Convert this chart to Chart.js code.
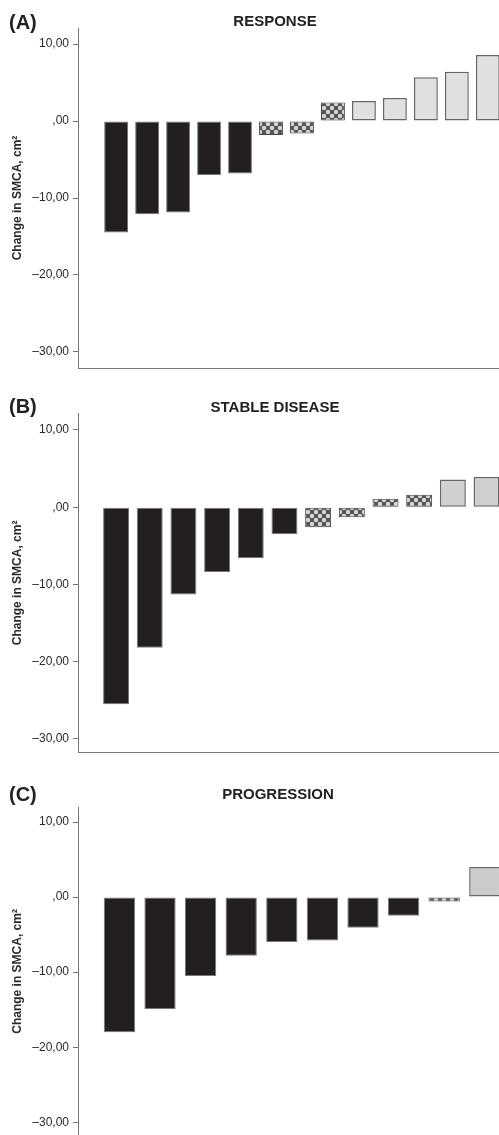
<!DOCTYPE html>
<html>
<head>
<meta charset="utf-8">
<script src="https://cdn.jsdelivr.net/npm/chart.js@4.4.1/dist/chart.umd.min.js"></script>
<style>
  body { margin: 0; background: #fff; width: 499px; height: 1135px; overflow: hidden; position: relative;
         font-family: 'Liberation Sans', Arial, sans-serif; }
  .panel { position: absolute; left: 0; width: 499px; }
  .letter { position: absolute; left: 9px; font-weight: bold; font-size: 20px; line-height: 20px; color: #222; }
  .title { position: absolute; width: 240px; text-align: center; font-weight: bold; font-size: 15px; line-height: 15px; color: #222; }
</style>
</head>
<body>
<div class="panel" style="top:0;height:380px"><canvas id="chartA"></canvas></div>
<div class="panel" style="top:380px;height:384px"><canvas id="chartB"></canvas></div>
<div class="panel" style="top:760px;height:387px"><canvas id="chartC"></canvas></div>

<div class="letter" style="top:12px">(A)</div>
<div class="title" style="top:13px;left:155px">RESPONSE</div>
<div class="letter" style="top:396px">(B)</div>
<div class="title" style="top:399px;left:155px">STABLE DISEASE</div>
<div class="letter" style="top:784px">(C)</div>
<div class="title" style="top:786px;left:158px">PROGRESSION</div>

<script>
const yTicks = [10, 0, -10, -20, -30];
const yTickLabels = ['10,00', ',00', '–10,00', '–20,00', '–30,00'];
const yTitle = 'Change in SMCA, cm²';

// A: response
const responseValues = [-14.5, -12.1, -11.9, -7.0, -6.8, -1.8, -1.6, 2.4, 2.6, 3.0, 5.7, 6.4, 8.6];
const responseGroups = ['loss', 'loss', 'loss', 'loss', 'loss', 'stable', 'stable', 'stable',
                        'gain', 'gain', 'gain', 'gain', 'gain'];

// B: stable disease
const stableValues = [-25.5, -18.2, -11.3, -8.4, -6.6, -3.5, -2.6, -1.3, 1.1, 1.6, 3.6, 3.9];
const stableGroups = ['loss', 'loss', 'loss', 'loss', 'loss', 'loss', 'stable', 'stable', 'stable', 'stable',
                      'gain', 'gain'];

// C: progression
const progressionValues = [-18.0, -14.9, -10.5, -7.8, -6.0, -5.8, -4.1, -2.5, -0.6, 4.0];
const progressionGroups = ['loss', 'loss', 'loss', 'loss', 'loss', 'loss', 'loss', 'loss', 'stable', 'gain'];

function makeHatch() {
  const c = document.createElement('canvas');
  c.width = 8; c.height = 8;
  const g = c.getContext('2d');
  g.fillStyle = '#4e4e4e';
  g.fillRect(0, 0, 8, 8);
  g.fillStyle = '#d4d4d4';
  [[4, 4], [0, 0], [8, 0], [0, 8], [8, 8]].forEach(p => {
    g.beginPath();
    g.arc(p[0], p[1], 2.3, 0, Math.PI * 2);
    g.fill();
  });
  return g.createPattern(c, 'repeat');
}
const hatch = makeHatch();

function drawPanel(id, values, groups, opt) {
  const ctx = document.getElementById(id).getContext('2d');
  const fills = { loss: '#231f20', stable: hatch, gain: opt.light };
  const borders = { loss: '#777', stable: '#444', gain: '#666' };

  new Chart(ctx, {
    type: 'bar',
    data: {
      datasets: [{
        data: values.map((v, i) => ({ x: i, y: v })),
        backgroundColor: groups.map(g => fills[g]),
        borderColor: groups.map(g => borders[g]),
        borderWidth: groups.map(g => g === 'gain' ? 1.5 : 1),
        borderSkipped: false,
        categoryPercentage: 1,
        barPercentage: 0.77
      }]
    },
    options: {
      responsive: true, maintainAspectRatio: false, animation: false,
      layout: { padding: { top: opt.padTop, bottom: opt.padBottom, left: 0, right: 0 } },
      plugins: { legend: { display: false }, tooltip: { enabled: false } },
      scales: {
        x: {
          type: 'linear', offset: false, min: opt.xMin, max: opt.xMax,
          ticks: { display: false },
          grid: { display: false },
          border: { display: true, color: '#777', width: 1 }
        },
        y: {
          min: opt.yMin, max: opt.yMax,
          afterBuildTicks: s => { s.ticks = yTicks.map(v => ({ value: v })); },
          afterFit: s => { s.width = 78; },
          ticks: {
            padding: 4, color: '#2a2a2a',
            font: { family: 'Liberation Sans', size: 12 },
            callback: v => yTickLabels[yTicks.indexOf(v)]
          },
          grid: { drawOnChartArea: false, drawTicks: true, tickLength: 5, color: '#777' },
          border: { display: true, color: '#777', width: 1 },
          title: {
            display: true, text: yTitle, color: '#2a2a2a',
            font: { family: 'Liberation Sans', size: 12, weight: 'bold' },
            padding: { top: 10, bottom: 0 }
          }
        }
      }
    }
  });
}

drawPanel('chartA', responseValues, responseGroups,
  { yMin: -32.1, yMax: 12.1, xMin: -1.23, xMax: 12.36, padTop: 28, padBottom: 4, light: '#e0e0e0' });
drawPanel('chartB', stableValues, stableGroups,
  { yMin: -31.8, yMax: 12.2, xMin: -1.13, xMax: 11.37, padTop: 33, padBottom: 0, light: '#d0d0d0' });
drawPanel('chartC', progressionValues, progressionGroups,
  { yMin: -31.8, yMax: 12.0, xMin: -1.02, xMax: 9.35, padTop: 47, padBottom: 0, light: '#cbcbcb' });
</script>
</body>
</html>
